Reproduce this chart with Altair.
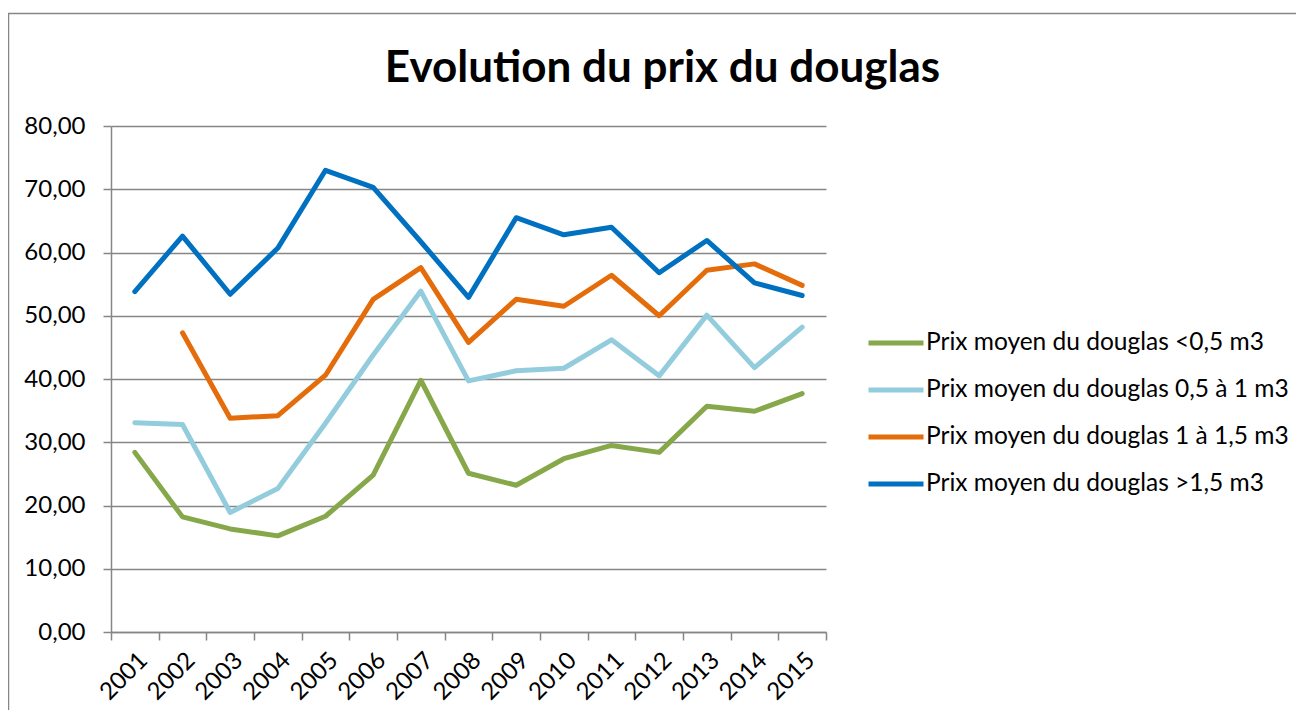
import altair as alt
import pandas as pd

years = [str(y) for y in range(2001, 2016)]
names = [
    "Prix moyen du douglas <0,5 m3",
    "Prix moyen du douglas 0,5 à 1 m3",
    "Prix moyen du douglas 1 à 1,5 m3",
    "Prix moyen du douglas >1,5 m3",
]
s_lt05 = [28.4, 18.2, 16.3, 15.2, 18.3, 24.8, 39.8, 25.1, 23.2, 27.4, 29.5, 28.4, 35.7, 34.9, 37.7]
s_05_1 = [33.1, 32.8, 18.9, 22.7, 33.0, 43.8, 53.9, 39.7, 41.3, 41.7, 46.2, 40.5, 50.1, 41.8, 48.2]
s_1_15 = [None, 47.3, 33.8, 34.2, 40.6, 52.6, 57.6, 45.8, 52.6, 51.5, 56.4, 50.0, 57.2, 58.2, 54.8]
s_gt15 = [53.8, 62.6, 53.4, 60.7, 73.0, 70.3, 61.7, 52.9, 65.5, 62.8, 64.0, 56.8, 61.9, 55.2, 53.2]
colors = ["#86A84A", "#93CDDD", "#E46C0A", "#0070C0"]

rows = []
for name, series in zip(names, [s_lt05, s_05_1, s_1_15, s_gt15]):
    for yr, v in zip(years, series):
        if v is not None:
            rows.append({"Année": yr, "Série": name, "Prix": v})
df = pd.DataFrame(rows)

FONT = "Lato"
GRID = "#868686"

lines = alt.Chart(df).mark_line(strokeWidth=5, strokeCap="round", strokeJoin="round").encode(
    x=alt.X("Année:O", sort=years, scale=alt.Scale(paddingInner=0, paddingOuter=0),
            axis=alt.Axis(title=None, labelAngle=-45, labelFontSize=24, labelFont=FONT,
                          labelColor="#000000", tickBand="extent", tickSize=8,
                          tickColor=GRID, tickWidth=1.5, domainColor=GRID, domainWidth=1.5,
                          labelPadding=8, grid=False)),
    y=alt.Y("Prix:Q", scale=alt.Scale(domain=[0, 80], nice=False),
            axis=alt.Axis(title=None, values=[0, 10, 20, 30, 40, 50, 60, 70, 80],
                          labelExpr="replace(format(datum.value, '.2f'), '.', ',')",
                          labelFontSize=24, labelFont=FONT, labelColor="#000000",
                          tickSize=8, tickColor=GRID, tickWidth=1.5,
                          domainColor=GRID, domainWidth=1.5, labelPadding=18,
                          grid=True, gridColor=GRID, gridWidth=1.5)),
    color=alt.Color("Série:N", scale=alt.Scale(domain=names, range=colors), sort=names,
                    legend=alt.Legend(title=None, orient="none", legendX=755, legendY=187,
                                      symbolType="stroke", symbolSize=3025, symbolStrokeWidth=5,
                                      labelFontSize=24.5, labelFont=FONT, labelColor="#000000",
                                      rowPadding=5, labelOffset=0, labelLimit=500)),
    order=alt.Order("Année:O"),
)

frame_df = pd.DataFrame({"k": [0]})
frame = alt.Chart(frame_df).mark_rect(fill=None, stroke="#868686", strokeWidth=1.5).encode(
    x=alt.value(-102.5), x2=alt.value(1300), y=alt.value(-112.5), y2=alt.value(700)
)

chart = alt.layer(frame, lines).properties(
    width=715, height=506,
    title=alt.TitleParams("Evolution du prix du douglas", fontSize=44, font=FONT,
                          fontWeight="bold", anchor="middle", dx=194, dy=108,
                          offset=30, color="#000000"),
    autosize=alt.AutoSizeParams(type="none"),
    padding={"left": 103, "top": 118, "right": 470, "bottom": 78},
).configure_view(stroke=None)

chart.save("out.html", embed_options={"renderer": "svg", "actions": False})
